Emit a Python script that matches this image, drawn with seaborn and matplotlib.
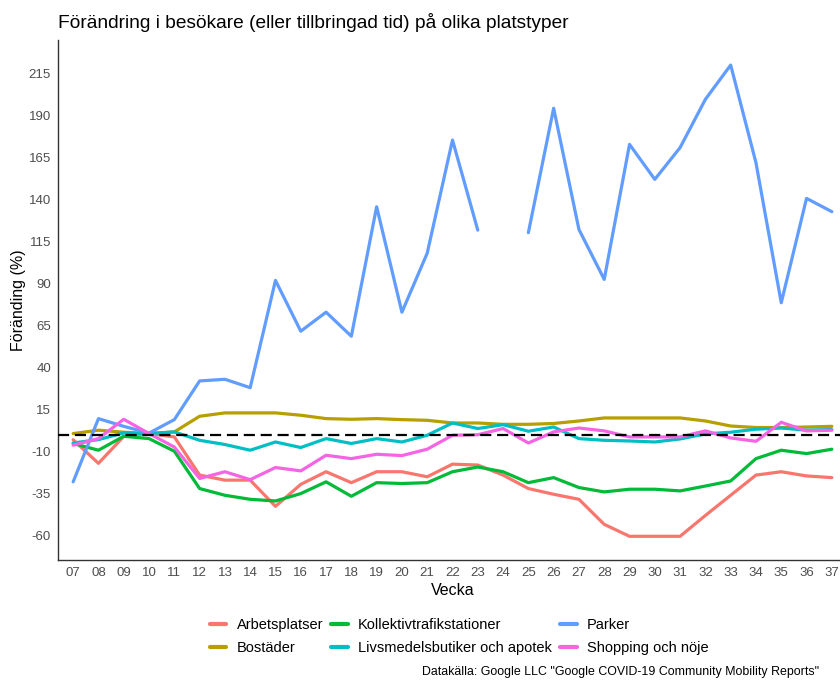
import numpy as np
import pandas as pd
import matplotlib
matplotlib.use("Agg")
import matplotlib.pyplot as plt
import seaborn as sns

# veckor 07-37
veckor = list(range(7, 38))
vecka_etiketter = ["%02d" % v for v in veckor]

arbetsplatser = [-3, -17, -1, 0.7, -1.3, -24, -27, -27, -42.6, -29.5, -22, -28.5, -22, -22, -25,
                 -17.5, -18, -24, -32, -35.4, -38.4, -53.3, -60.4, -60.4, -60.4, -48, -36, -24, -22, -24.5, -25.5]
bostader = [0.7, 2.7, 1.5, 0.7, 1.7, 11, 13, 13, 13, 11.6, 9.6, 9.2, 9.6, 9, 8.6,
            7, 7, 6.2, 6.2, 6.7, 8.2, 10, 10, 10, 10, 8.2, 5.2, 4.3, 4.3, 4.6, 5]
kollektivtrafik = [-5.2, -9.2, -0.9, -2.3, -9.8, -32, -36, -38.4, -39.4, -35, -28, -36.6, -28.5, -29, -28.5,
                   -22, -19.2, -22, -28.5, -25.5, -31.4, -34, -32.4, -32.4, -33.4, -30.5, -27.5, -14.2, -9.2, -11.2, -8.6]
livsmedel = [-4.9, -2.9, 1.1, 0.7, 1.7, -3.3, -5.8, -9.2, -4.3, -7.6, -2.3, -5.2, -2.3, -4.3, -0.3,
             7, 3.7, 6, 2.1, 4.6, -2.3, -3.3, -3.7, -4.3, -2.5, 0.5, 1.5, 3.3, 4, 2.7, 3.1]
parker = [-28, 9.6, 5, 1, 9, 32, 33, 28, 91.8, 61.6, 72.9, 58.6, 135.6, 72.9, 108,
          175.3, 121.7, np.nan, 120.2, 194.2, 122.1, 92.4, 172.7, 151.9, 170.8, 199.5, 219.9, 161.8, 78.5, 140.6, 132.7]
shopping = [-6.2, -2.3, 9.2, 0.7, -7.3, -26, -22, -26.7, -19.5, -21.5, -12.2, -14.2, -11.6, -12.4, -8.6,
            -0.3, 0, 3.7, -4.9, 1.7, 4, 2.3, -1.3, -1.3, -1.3, 2.3, -1.9, -3.9, 7.4, 2.3, 2.7]

kategorier = ["Arbetsplatser", "Bostäder", "Kollektivtrafikstationer",
              "Livsmedelsbutiker och apotek", "Parker", "Shopping och nöje"]
serier = [arbetsplatser, bostader, kollektivtrafik, livsmedel, parker, shopping]
farger = ["#F8766D", "#B79F00", "#00BA38", "#00BFC4", "#619CFF", "#F564E3"]

rader = []
for namn, varden in zip(kategorier, serier):
    segment = 0
    for v, y in zip(veckor, varden):
        if np.isnan(y):
            segment += 1  # bryt linjen där data saknas
            continue
        rader.append({"Vecka": v, "Forandring": y, "Plats": namn, "seg": segment})
df = pd.DataFrame(rader)

sns.set_style("white")
plt.rcParams["font.family"] = ["Liberation Sans", "DejaVu Sans"]
plt.rcParams["axes.unicode_minus"] = False
plt.rcParams["text.color"] = "black"
plt.rcParams["axes.labelcolor"] = "black"

fig = plt.figure(figsize=(8.4, 6.8), dpi=100)
ax = fig.add_axes([58 / 840, 120 / 680, 789 / 840, 520 / 680])

sns.lineplot(data=df, x="Vecka", y="Forandring", hue="Plats", units="seg", estimator=None,
             hue_order=kategorier, palette=farger, linewidth=2.3, legend=False, ax=ax)
ax.axhline(0, color="black", linestyle=(0, (5, 2.6)), linewidth=1.6, zorder=5)

ax.set_xlim(6.4, 37.6)
ax.set_ylim(-74.5, 234.8)
ax.set_xticks(veckor)
ax.set_xticklabels(vecka_etiketter)
ax.set_yticks([-60, -35, -10, 15, 40, 65, 90, 115, 140, 165, 190, 215])
ax.tick_params(axis="both", labelsize=9.5, colors="#4D4D4D", length=3, width=0.8, pad=2)
for s in ["top", "right"]:
    ax.spines[s].set_visible(False)
for s in ["left", "bottom"]:
    ax.spines[s].set_color("#333333")
    ax.spines[s].set_linewidth(1.0)

ax.set_xlabel("Vecka", fontsize=11.5, labelpad=3)
ax.set_ylabel("Föränding (%)", fontsize=11.5, labelpad=2)
fig.text(58 / 840, 1 - 22 / 680, "Förändring i besökare (eller tillbringad tid) på olika platstyper",
         fontsize=13.75, va="center", ha="left")

handtag = [plt.Line2D([], [], color=f, linewidth=3) for f in farger]
fig.legend(handtag, kategorier, ncol=3, loc="center", bbox_to_anchor=(459 / 840, 1 - 636.5 / 680),
           frameon=False, fontsize=10.5, handlelength=1.15, handletextpad=0.7, columnspacing=0.55,
           labelspacing=0.6, borderpad=0)
fig.text(819 / 840, 1 - 672 / 680,
         'Datakälla: Google LLC "Google COVID-19 Community Mobility Reports"',
         fontsize=8.9, ha="right", va="center")

fig.savefig("out.png", dpi=100)
